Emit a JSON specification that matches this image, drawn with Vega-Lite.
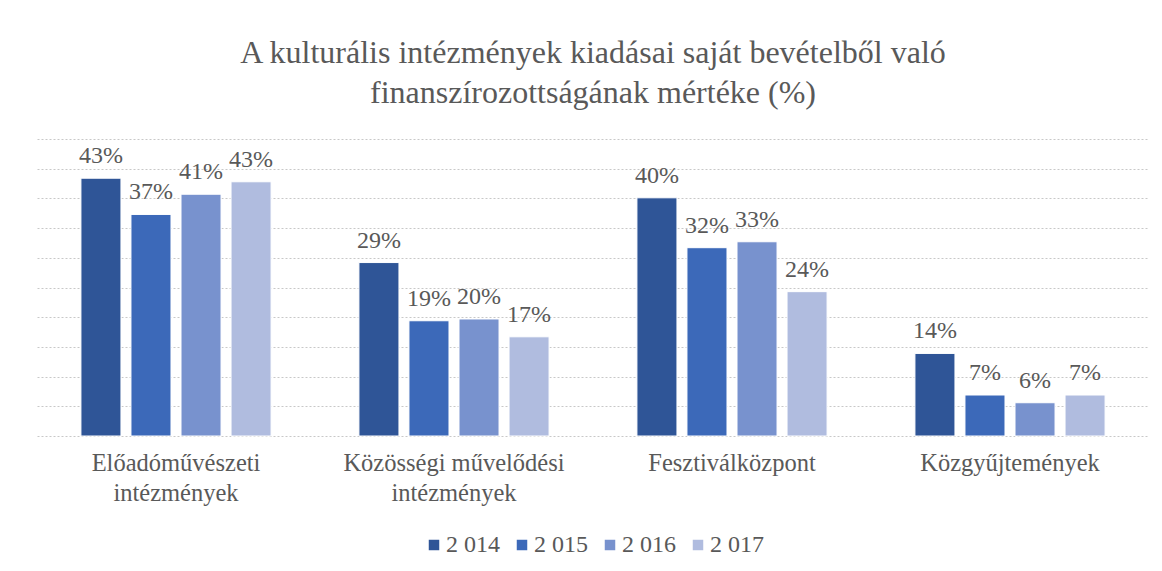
{
  "$schema": "https://vega.github.io/schema/vega-lite/v6.json",
  "autosize": {"type": "none"},
  "width": 1112,
  "height": 297,
  "padding": {"left": 37, "right": 13, "top": 139, "bottom": 135},
  "background": "white",
  "title": {
    "text": ["A kulturális intézmények kiadásai saját bevételből való", "finanszírozottságának mértéke (%)"],
    "font": "Liberation Serif",
    "fontSize": 32,
    "fontWeight": "normal",
    "color": "#595959",
    "lineHeight": 40,
    "anchor": "middle",
    "offset": 29
  },
  "data": {
    "values": [
      {"category": "Előadóművészeti\nintézmények", "year": "2 014", "value": 0.434},
      {"category": "Előadóművészeti\nintézmények", "year": "2 015", "value": 0.373},
      {"category": "Előadóművészeti\nintézmények", "year": "2 016", "value": 0.407},
      {"category": "Előadóművészeti\nintézmények", "year": "2 017", "value": 0.428},
      {"category": "Közösségi művelődési\nintézmények", "year": "2 014", "value": 0.292},
      {"category": "Közösségi művelődési\nintézmények", "year": "2 015", "value": 0.194},
      {"category": "Közösségi művelődési\nintézmények", "year": "2 016", "value": 0.197},
      {"category": "Közösségi művelődési\nintézmények", "year": "2 017", "value": 0.167},
      {"category": "Fesztiválközpont", "year": "2 014", "value": 0.401},
      {"category": "Fesztiválközpont", "year": "2 015", "value": 0.317},
      {"category": "Fesztiválközpont", "year": "2 016", "value": 0.327},
      {"category": "Fesztiválközpont", "year": "2 017", "value": 0.243},
      {"category": "Közgyűjtemények", "year": "2 014", "value": 0.139},
      {"category": "Közgyűjtemények", "year": "2 015", "value": 0.069},
      {"category": "Közgyűjtemények", "year": "2 016", "value": 0.056},
      {"category": "Közgyűjtemények", "year": "2 017", "value": 0.069}
    ]
  },
  "encoding": {
    "x": {
      "field": "category",
      "type": "nominal",
      "sort": null,
      "scale": {"paddingInner": 0.28, "paddingOuter": 0.14},
      "axis": {
        "title": null,
        "labelAngle": 0,
        "labelFont": "Liberation Serif",
        "labelFontSize": 24.5,
        "labelColor": "#595959",
        "labelPadding": 15,
        "labelLineHeight": 30,
        "labelLimit": 0,
        "labelExpr": "split(datum.label, '\\n')",
        "ticks": false,
        "domain": false,
        "grid": false
      }
    },
    "xOffset": {
      "field": "year",
      "type": "nominal",
      "scale": {"paddingInner": 0.2, "paddingOuter": 0.1}
    },
    "y": {
      "field": "value",
      "type": "quantitative",
      "scale": {"domain": [0, 0.5], "nice": false},
      "axis": {
        "title": null,
        "labels": false,
        "ticks": false,
        "domain": false,
        "grid": true,
        "values": [0, 0.05, 0.1, 0.15, 0.2, 0.25, 0.3, 0.35, 0.4, 0.45, 0.5],
        "gridColor": "#c8c8c8",
        "gridDash": [2, 2],
        "gridWidth": 1
      }
    }
  },
  "layer": [
    {
      "mark": {"type": "bar", "stroke": "white", "strokeWidth": 1},
      "encoding": {
        "color": {
          "field": "year",
          "type": "nominal",
          "scale": {
            "domain": ["2 014", "2 015", "2 016", "2 017"],
            "range": ["#2f5597", "#3c69b9", "#7892ce", "#b0bcdf"]
          },
          "legend": {
            "title": null,
            "orient": "bottom",
            "direction": "horizontal",
            "symbolType": "square",
            "symbolSize": 110,
            "symbolStrokeWidth": 0,
            "labelFont": "Liberation Serif",
            "labelFontSize": 24,
            "labelColor": "#595959",
            "columnPadding": 10,
            "labelOffset": 0,
            "offset": 28
          }
        }
      }
    },
    {
      "mark": {
        "type": "text",
        "baseline": "alphabetic",
        "dy": -15,
        "font": "Liberation Serif",
        "fontSize": 24,
        "color": "#595959"
      },
      "encoding": {
        "text": {"field": "value", "type": "quantitative", "format": ".0%"}
      }
    }
  ],
  "config": {
    "view": {"stroke": null},
    "legend": {"layout": {"bottom": {"anchor": "middle"}}}
  }
}
